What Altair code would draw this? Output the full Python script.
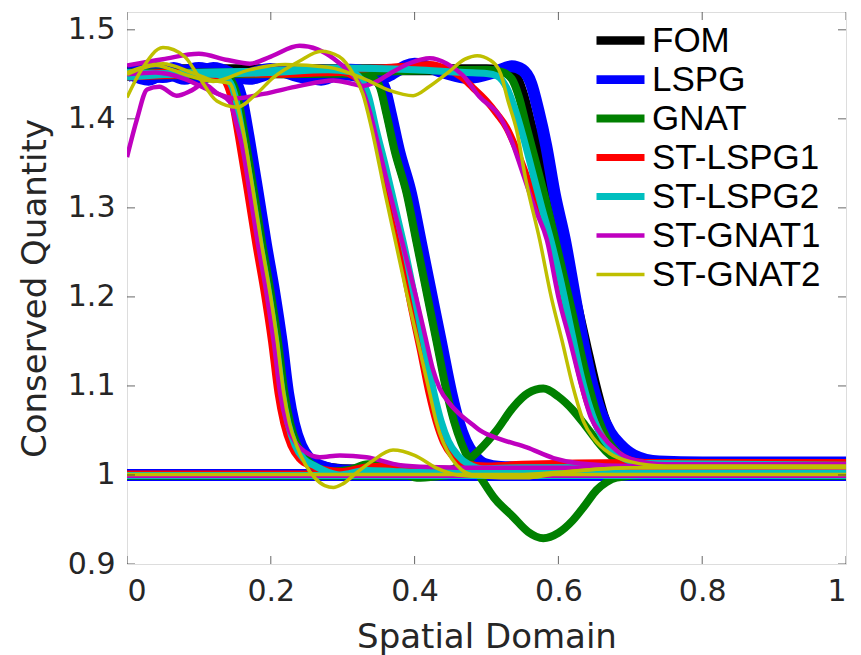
import altair as alt
import pandas as pd

METHODS = ["FOM", "LSPG", "GNAT", "ST-LSPG1", "ST-LSPG2", "ST-GNAT1", "ST-GNAT2"]
COLORS = ["#000000", "#0000FF", "#008000", "#FF0000", "#00BFBF", "#BF00BF", "#BFBF00"]
WIDTHS = [11, 12, 8, 7, 7, 4.5, 3.5]
# legend sample widths (the two heaviest are capped so the legend rows stay even)
LEGEND_WIDTHS = [8.6, 8.75, 8, 7, 7, 4.5, 3.5]

X_TICKS = [0, 0.2, 0.4, 0.6, 0.8, 1]
Y_TICKS = [0.9, 1, 1.1, 1.2, 1.3, 1.4, 1.5]

# ---------------- FOM ----------------
FOM_A = ([0, 0.07, 0.14, 0.15, 0.158, 0.167, 0.18, 0.191, 0.203, 0.213, 0.222, 0.23, 0.24, 0.252, 0.268, 0.3, 0.5, 1],
         [1.449, 1.449, 1.448, 1.44, 1.42, 1.38, 1.316, 1.26, 1.204, 1.15, 1.092, 1.058, 1.033, 1.018, 1.01, 1.006, 1.004, 1.004])
FOM_B = ([0, 0.17, 0.335, 0.347, 0.355, 0.364, 0.375, 0.392, 0.406, 0.42, 0.434, 0.448, 0.458, 0.468, 0.48, 0.495, 0.52, 0.6, 1],
         [1.452, 1.452, 1.451, 1.445, 1.435, 1.405, 1.365, 1.316, 1.26, 1.204, 1.148, 1.092, 1.06, 1.038, 1.022, 1.012, 1.008, 1.006, 1.006])
FOM_C = ([0, 0.25, 0.5, 0.53, 0.542, 0.551, 0.562, 0.575, 0.588, 0.6, 0.613, 0.626, 0.638, 0.65, 0.662, 0.675, 0.69, 0.71, 0.75, 1],
         [1.455, 1.455, 1.455, 1.453, 1.445, 1.425, 1.39, 1.355, 1.315, 1.275, 1.232, 1.188, 1.145, 1.103, 1.067, 1.041, 1.024, 1.014, 1.01, 1.009])
FOM_K = ([0, 1], [1.0, 1.0])

# ---------------- LSPG ----------------
LSPG_A = ([0, 0.03, 0.065, 0.1, 0.13, 0.142, 0.152, 0.16, 0.169, 0.182, 0.193, 0.205, 0.215, 0.224, 0.232, 0.242, 0.254, 0.27, 0.3, 0.5, 1],
          [1.452, 1.444, 1.457, 1.445, 1.452, 1.448, 1.44, 1.42, 1.38, 1.316, 1.26, 1.204, 1.15, 1.092, 1.058, 1.033, 1.018, 1.01, 1.005, 1.002, 1.002])
LSPG_B = ([0, 0.04, 0.08, 0.12, 0.17, 0.22, 0.27, 0.31, 0.338, 0.35, 0.358, 0.367, 0.378, 0.395, 0.409, 0.423, 0.437, 0.451, 0.461, 0.471, 0.483, 0.498, 0.52, 0.6, 1],
          [1.448, 1.457, 1.445, 1.457, 1.445, 1.456, 1.444, 1.455, 1.451, 1.445, 1.435, 1.405, 1.365, 1.316, 1.26, 1.204, 1.148, 1.092, 1.06, 1.038, 1.022, 1.012, 1.009, 1.008, 1.008])
LSPG_C = ([0, 0.05, 0.1, 0.15, 0.2, 0.25, 0.3, 0.35, 0.4, 0.44, 0.475, 0.51, 0.535, 0.55, 0.562, 0.572, 0.583, 0.595, 0.609, 0.622, 0.634, 0.646, 0.658, 0.672, 0.686, 0.705, 0.74, 0.8, 1],
          [1.455, 1.447, 1.457, 1.447, 1.456, 1.446, 1.45, 1.445, 1.462, 1.452, 1.446, 1.452, 1.459, 1.455, 1.44, 1.41, 1.37, 1.315, 1.264, 1.205, 1.151, 1.105, 1.072, 1.048, 1.034, 1.022, 1.015, 1.014, 1.014])
LSPG_K = ([0, 1], [1.0, 1.0])

# ---------------- GNAT ----------------
GNAT_A = ([0, 0.07, 0.137, 0.147, 0.155, 0.164, 0.177, 0.188, 0.2, 0.21, 0.219, 0.227, 0.237, 0.249, 0.265, 0.285, 0.31, 0.335, 0.37, 0.403, 0.44, 0.5, 0.6, 1],
          [1.449, 1.449, 1.448, 1.44, 1.42, 1.38, 1.316, 1.26, 1.204, 1.15, 1.092, 1.058, 1.033, 1.018, 1.008, 1.004, 1.006, 1.012, 1.008, 0.997, 0.999, 1.004, 1.005, 1.005])
GNAT_B = ([0, 0.17, 0.332, 0.344, 0.352, 0.361, 0.372, 0.389, 0.403, 0.417, 0.431, 0.445, 0.455, 0.465, 0.477, 0.491, 0.51, 0.537, 0.558, 0.579, 0.6, 0.62, 0.637, 0.653, 0.667, 0.681, 0.72, 1],
          [1.45, 1.45, 1.451, 1.445, 1.435, 1.405, 1.365, 1.316, 1.26, 1.204, 1.148, 1.092, 1.06, 1.036, 1.015, 0.998, 0.975, 0.953, 0.936, 0.929, 0.935, 0.949, 0.966, 0.983, 0.992, 0.997, 1.0, 1.0])
GNAT_C = ([0, 0.25, 0.5, 0.52, 0.535, 0.545, 0.556, 0.569, 0.582, 0.594, 0.607, 0.62, 0.632, 0.644, 0.656, 0.668, 0.683, 0.7, 0.75, 1],
          [1.452, 1.452, 1.455, 1.453, 1.445, 1.425, 1.39, 1.35, 1.31, 1.27, 1.225, 1.18, 1.135, 1.095, 1.062, 1.04, 1.024, 1.015, 1.011, 1.01])
GNAT_K = ([0, 0.4, 0.44, 0.468, 0.49, 0.514, 0.537, 0.558, 0.579, 0.6, 0.62, 0.637, 0.653, 0.667, 0.681, 0.7, 0.75, 1],
          [0.999, 0.999, 1.003, 1.013, 1.028, 1.05, 1.076, 1.092, 1.097, 1.088, 1.073, 1.056, 1.039, 1.026, 1.017, 1.01, 1.002, 0.999])

# ---------------- ST-LSPG1 ----------------
STL1_A = ([0, 0.05, 0.1, 0.128, 0.138, 0.146, 0.155, 0.168, 0.179, 0.191, 0.201, 0.21, 0.218, 0.228, 0.24, 0.256, 0.275, 0.3, 0.333, 0.37, 0.403, 0.45, 0.55, 0.7, 1],
          [1.448, 1.452, 1.449, 1.448, 1.44, 1.42, 1.38, 1.316, 1.26, 1.204, 1.15, 1.092, 1.058, 1.033, 1.018, 1.01, 1.006, 1.004, 1.009, 1.01, 1.005, 1.006, 1.012, 1.014, 1.014])
STL1_B = ([0, 0.1, 0.2, 0.3, 0.315, 0.325, 0.335, 0.345, 0.357, 0.37, 0.383, 0.395, 0.408, 0.42, 0.43, 0.44, 0.452, 0.47, 0.5, 0.6, 1],
          [1.45, 1.452, 1.45, 1.452, 1.448, 1.44, 1.42, 1.385, 1.34, 1.29, 1.24, 1.19, 1.14, 1.092, 1.06, 1.037, 1.022, 1.013, 1.01, 1.01, 1.01])
STL1_C = ([0, 0.1, 0.2, 0.3, 0.35, 0.4, 0.421, 0.445, 0.465, 0.481, 0.5, 0.515, 0.528, 0.542, 0.556, 0.572, 0.588, 0.602, 0.615, 0.628, 0.641, 0.655, 0.67, 0.69, 0.72, 1],
          [1.447, 1.45, 1.452, 1.455, 1.457, 1.46, 1.461, 1.456, 1.447, 1.435, 1.42, 1.405, 1.39, 1.365, 1.335, 1.3, 1.264, 1.22, 1.17, 1.12, 1.08, 1.052, 1.033, 1.02, 1.014, 1.012])
STL1_K = ([0, 1], [1.001, 1.001])

# ---------------- ST-LSPG2 ----------------
STL2_A = ([0, 0.05, 0.1, 0.125, 0.134, 0.144, 0.152, 0.161, 0.174, 0.185, 0.197, 0.207, 0.216, 0.224, 0.234, 0.246, 0.262, 0.28, 0.296, 0.333, 0.37, 0.403, 0.45, 0.55, 1],
          [1.452, 1.45, 1.452, 1.45, 1.447, 1.44, 1.42, 1.38, 1.316, 1.26, 1.204, 1.15, 1.092, 1.058, 1.033, 1.018, 1.01, 1.003, 1.0, 1.005, 1.004, 1.003, 1.005, 1.008, 1.009])
STL2_B = ([0, 0.1, 0.2, 0.28, 0.31, 0.325, 0.336, 0.346, 0.36, 0.373, 0.386, 0.399, 0.413, 0.427, 0.437, 0.447, 0.46, 0.475, 0.5, 0.55, 0.7, 1],
          [1.452, 1.45, 1.452, 1.455, 1.453, 1.445, 1.425, 1.39, 1.345, 1.3, 1.255, 1.204, 1.148, 1.092, 1.06, 1.038, 1.022, 1.012, 1.006, 1.004, 1.006, 1.007])
STL2_C = ([0, 0.1, 0.2, 0.3, 0.4, 0.47, 0.5, 0.515, 0.528, 0.54, 0.551, 0.564, 0.577, 0.59, 0.604, 0.619, 0.632, 0.644, 0.657, 0.672, 0.69, 0.72, 1],
          [1.447, 1.452, 1.454, 1.457, 1.455, 1.452, 1.451, 1.448, 1.435, 1.41, 1.38, 1.34, 1.3, 1.262, 1.215, 1.158, 1.11, 1.075, 1.048, 1.03, 1.019, 1.013, 1.011])
STL2_K = ([0, 1], [0.9995, 0.9995])

# ---------------- ST-GNAT1 ----------------
STG1_A = ([0, 0.014, 0.028, 0.045, 0.069, 0.09, 0.106, 0.125, 0.143, 0.152, 0.16, 0.171, 0.182, 0.194, 0.204, 0.213, 0.222, 0.233, 0.248, 0.268, 0.296, 0.333, 0.38, 0.42, 0.5, 1],
          [1.357, 1.40, 1.433, 1.436, 1.426, 1.432, 1.439, 1.429, 1.419, 1.395, 1.37, 1.316, 1.26, 1.204, 1.15, 1.092, 1.058, 1.038, 1.026, 1.02, 1.022, 1.02, 1.011, 1.009, 1.008, 1.008])
STG1_B = ([0, 0.05, 0.1, 0.14, 0.171, 0.2, 0.24, 0.265, 0.287, 0.31, 0.325, 0.337, 0.348, 0.36, 0.374, 0.388, 0.402, 0.415, 0.425, 0.435, 0.449, 0.463, 0.48, 0.491, 0.52, 0.556, 0.593, 0.63, 0.7, 1],
          [1.46, 1.467, 1.473, 1.466, 1.462, 1.47, 1.482, 1.478, 1.468, 1.452, 1.437, 1.41, 1.375, 1.335, 1.29, 1.245, 1.2, 1.155, 1.12, 1.097, 1.08, 1.068, 1.057, 1.05, 1.04, 1.031, 1.019, 1.013, 1.01, 1.01])
STG1_C = ([0, 0.04, 0.08, 0.115, 0.15, 0.19, 0.24, 0.287, 0.31, 0.328, 0.35, 0.366, 0.395, 0.421, 0.445, 0.467, 0.49, 0.519, 0.535, 0.55, 0.567, 0.584, 0.6, 0.616, 0.632, 0.645, 0.66, 0.68, 0.7, 0.75, 1],
          [1.45, 1.452, 1.445, 1.432, 1.423, 1.428, 1.437, 1.443, 1.44, 1.437, 1.443, 1.451, 1.463, 1.468, 1.462, 1.449, 1.425, 1.402, 1.375, 1.34, 1.3, 1.264, 1.2, 1.151, 1.1, 1.065, 1.045, 1.028, 1.018, 1.012, 1.012])
STG1_K = ([0, 1], [0.999, 0.999])

# ---------------- ST-GNAT2 ----------------
STG2_A = ([0, 0.05, 0.09, 0.12, 0.143, 0.152, 0.163, 0.176, 0.187, 0.199, 0.209, 0.218, 0.226, 0.236, 0.248, 0.262, 0.275, 0.287, 0.3, 0.32, 0.34, 0.37, 0.4, 0.43, 0.46, 0.5, 0.6, 0.7, 1],
          [1.452, 1.462, 1.452, 1.443, 1.44, 1.42, 1.38, 1.316, 1.26, 1.204, 1.15, 1.092, 1.058, 1.033, 1.012, 0.996, 0.988, 0.986, 0.99, 1.003, 1.015, 1.028, 1.022, 1.008, 1.0, 0.998, 1.003, 1.008, 1.008])
STG2_B = ([0, 0.02, 0.05, 0.08, 0.1, 0.125, 0.153, 0.18, 0.203, 0.24, 0.27, 0.295, 0.315, 0.328, 0.34, 0.359, 0.374, 0.389, 0.405, 0.421, 0.43, 0.44, 0.452, 0.465, 0.48, 0.52, 0.56, 0.6, 0.7, 1],
          [1.424, 1.455, 1.48, 1.47, 1.447, 1.42, 1.413, 1.428, 1.446, 1.465, 1.476, 1.47, 1.45, 1.428, 1.39, 1.316, 1.26, 1.204, 1.148, 1.092, 1.06, 1.036, 1.018, 1.006, 1.0, 0.997, 0.997, 1.002, 1.008, 1.009])
STG2_C = ([0, 0.04, 0.08, 0.12, 0.17, 0.22, 0.28, 0.33, 0.365, 0.398, 0.42, 0.445, 0.47, 0.487, 0.505, 0.52, 0.53, 0.542, 0.555, 0.574, 0.59, 0.605, 0.62, 0.635, 0.65, 0.67, 0.7, 0.75, 1],
          [1.45, 1.46, 1.45, 1.442, 1.455, 1.461, 1.458, 1.445, 1.432, 1.426, 1.436, 1.451, 1.467, 1.471, 1.466, 1.45, 1.42, 1.387, 1.33, 1.264, 1.2, 1.151, 1.1, 1.06, 1.04, 1.025, 1.015, 1.01, 1.01])
STG2_K = ([0, 1], [1.0005, 1.0005])

CURVES = {
    "FOM": [FOM_K, FOM_A, FOM_B, FOM_C],
    "LSPG": [LSPG_K, LSPG_A, LSPG_B, LSPG_C],
    "GNAT": [GNAT_K, GNAT_A, GNAT_B, GNAT_C],
    "ST-LSPG1": [STL1_K, STL1_A, STL1_B, STL1_C],
    "ST-LSPG2": [STL2_K, STL2_A, STL2_B, STL2_C],
    "ST-GNAT1": [STG1_K, STG1_A, STG1_B, STG1_C],
    "ST-GNAT2": [STG2_K, STG2_A, STG2_B, STG2_C],
}

rows = []
for m in METHODS:
    for ci, (xs, ys) in enumerate(CURVES[m]):
        for xv, yv in zip(xs, ys):
            rows.append({"method": m, "curve": f"{m}-{ci}", "x": xv, "y": yv})
df = pd.DataFrame(rows)

AX = "#262626"
AXFONT = "DejaVu Sans"
LEGFONT = "Liberation Sans"
x_scale = alt.Scale(domain=[0, 1], nice=False, zero=False)
y_scale = alt.Scale(domain=[0.9, 1.52], nice=False, zero=False)

x_axis = alt.Axis(values=X_TICKS, format="~g", tickSize=0, domain=False, grid=False,
                  labelFont=AXFONT, labelFontSize=30, labelColor=AX, labelPadding=12,
                  title="Spatial Domain", titleFont=AXFONT, titleFontSize=34,
                  titleFontWeight="normal", titleColor=AX, titlePadding=14)
y_axis = alt.Axis(values=Y_TICKS, format="~g", tickSize=0, domain=False, grid=False,
                  labelFont=AXFONT, labelFontSize=30, labelColor=AX, labelPadding=12,
                  title="Conserved Quantity", titleFont=AXFONT, titleFontSize=34,
                  titleFontWeight="normal", titleColor=AX, titlePadding=15)

legend = alt.Legend(title=None, orient="none", legendX=476, legendY=11,
                    symbolType="M-6,0H6", symbolSize=64, labelFont=LEGFONT,
                    labelFontSize=35, labelColor="#000000", labelOffset=14,
                    rowPadding=3, padding=0, labelLimit=400)

color_enc = alt.Color("method:N", scale=alt.Scale(domain=METHODS, range=COLORS), legend=legend)
width_enc = alt.StrokeWidth("method:N", scale=alt.Scale(type="ordinal", domain=METHODS, range=LEGEND_WIDTHS), legend=legend)

layers = []
for i, m in enumerate(METHODS):
    sub = df[df["method"] == m]
    line_props = dict(clip=True, interpolate="monotone", strokeCap="butt", strokeJoin="round")
    layers.append(
        alt.Chart(sub).mark_line(**line_props).encode(
            x=alt.X("x:Q", scale=x_scale, axis=x_axis),
            y=alt.Y("y:Q", scale=y_scale, axis=y_axis),
            color=color_enc,
            strokeWidth=width_enc,
            detail="curve:N",
        )
    )
    if WIDTHS[i] != LEGEND_WIDTHS[i]:
        # full-weight stroke for the heaviest series
        layers.append(
            alt.Chart(sub).mark_line(**line_props).encode(
                x=alt.X("x:Q", scale=x_scale, axis=x_axis),
                y=alt.Y("y:Q", scale=y_scale, axis=y_axis),
                color=alt.value(COLORS[i]),
                strokeWidth=alt.value(WIDTHS[i]),
                detail="curve:N",
            )
        )

xt = pd.DataFrame({"v": X_TICKS})
yt = pd.DataFrame({"v": Y_TICKS})
tick_style = dict(size=16, thickness=1, color=AX, clip=True)
for yv in [0.9, 1.52]:
    layers.append(alt.Chart(xt).mark_tick(orient="vertical", **tick_style).encode(
        x=alt.X("v:Q", scale=x_scale, axis=x_axis),
        y=alt.YDatum(yv, scale=y_scale, axis=y_axis)))
for xv in [0, 1]:
    layers.append(alt.Chart(yt).mark_tick(orient="horizontal", **tick_style).encode(
        y=alt.Y("v:Q", scale=y_scale, axis=y_axis),
        x=alt.XDatum(xv, scale=x_scale, axis=x_axis)))

chart = alt.layer(*layers).properties(
    width=719, height=552,
    autosize=alt.AutoSizeParams(type="none"),
    padding={"left": 127, "top": 12, "right": 15, "bottom": 91},
).configure_view(stroke=AX, strokeWidth=1).configure(background="white")

chart.save("out.html", embed_options={"renderer": "svg", "actions": False})
